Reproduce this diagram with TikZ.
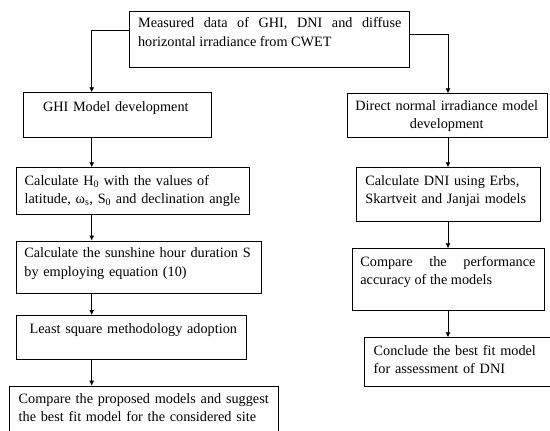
\documentclass[tikz,border=0pt]{standalone}
\usepackage{fontspec}
\setmainfont{Liberation Serif}
\usetikzlibrary{arrows.meta}

\begin{document}
\begin{tikzpicture}[x=1bp, y=-1bp, line width=0.8bp,
    >={Latex[length=5bp,width=5bp]},
    box/.style={draw, rectangle, inner sep=0pt, anchor=north west},
    txt/.style={inner sep=0pt, anchor=base west, align=left, text width=300bp,
        font=\fontsize{14.3}{18.5}\selectfont},
    ctxt/.style={txt, anchor=base, align=center, text width=200bp},
    jtxt/.style={txt, align=justify}]

    \useasboundingbox (0,0) rectangle (550,430);

    % 1. Columns for the vertical links
    \coordinate (colL) at (91.7,0);
    \coordinate (colR) at (448,0);

    % 2. Boxes
    \node[box, minimum width=280bp, minimum height=56.6bp] (top) at (129.3,10.7) {};
    \node[box, minimum width=188bp, minimum height=45bp] (ghi) at (22.7,92.3) {};
    \node[box, minimum width=200bp, minimum height=44bp] (dni) at (347.3,93.3) {};
    \node[box, minimum width=233.6bp, minimum height=46.7bp] (hzero) at (15.7,167.3) {};
    \node[box, minimum width=184bp, minimum height=53.4bp] (dnicalc) at (356,167.3) {};
    \node[box, minimum width=245bp, minimum height=52.2bp] (sun) at (15.7,240.5) {};
    \node[box, minimum width=192.6bp, minimum height=62bp] (perf) at (351.7,248.3) {};
    \node[box, minimum width=230.3bp, minimum height=44bp] (lsq) at (15.7,315) {};
    \node[box, minimum width=200bp, minimum height=48.4bp] (concl) at (364.3,337.3) {};
    \node[box, minimum width=269bp, minimum height=60bp] (cmp) at (9.3,385.7) {};

    % 3. Texts
    \node[jtxt, text width=263.3bp] (top-t) at (137.7,27.7)
        {Measured data of GHI, DNI and diffuse\linebreak horizontal irradiance from CWET};
    \node[ctxt] (ghi-t) at (115.8,111) {GHI Model development};
    \node[ctxt] (dni-t) at (446.7,110.5) {Direct normal irradiance model\\development};
    \node[txt] (hzero-t) at (24.3,185.2)
        {Calculate H\textsubscript{0} with the values of\\latitude, ω\textsubscript{s}, S\textsubscript{0} and declination angle};
    \node[txt] (dnicalc-t) at (365,185.2) {Calculate DNI using Erbs,\\Skartveit and Janjai models};
    \node[txt] (sun-t) at (24,257.8) {Calculate the sunshine hour duration S\\by employing equation (10)};
    \node[jtxt, text width=175bp] (perf-t) at (360,266.2)
        {Compare the performance\linebreak accuracy of the models};
    \node[txt] (lsq-t) at (29.3,333.5) {Least square methodology adoption};
    \node[txt] (concl-t) at (373.3,355.2) {Conclude the best fit model\\for assessment of DNI};
    \node[txt] (cmp-t) at (18.3,403.5)
        {Compare the proposed models and suggest\\the best fit model for the considered site};

    % 4. Links
    \draw[->] ([yshift=9bp]top.west) -| (ghi.north -| colL);
    \draw[->] ([yshift=4.7bp]top.east) -| (dni.north -| colR);
    \draw[->] (ghi.south -| colL) -- (hzero.north -| colL);
    \draw[->] (hzero.south -| colL) -- (sun.north -| colL);
    \draw[->] (sun.south -| colL) -- (lsq.north -| colL);
    \draw[->] (lsq.south -| colL) -- (cmp.north -| colL);
    \draw[->] (dni.south -| colR) -- (dnicalc.north -| colR);
    \draw[->] (dnicalc.south -| colR) -- (perf.north -| colR);
    \draw[->] (perf.south -| colR) -- (concl.north -| colR);

\end{tikzpicture}
\end{document}
